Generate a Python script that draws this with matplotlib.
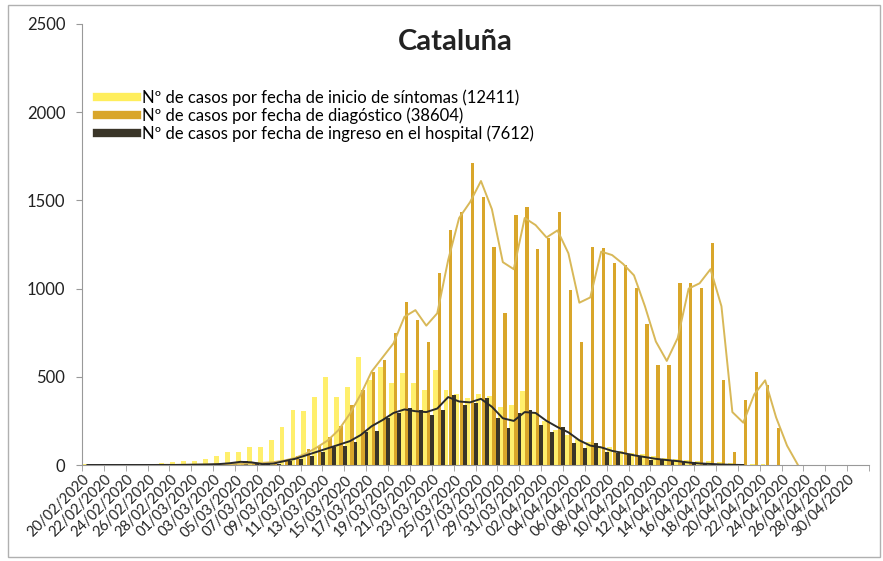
import numpy as np
import pandas as pd
import matplotlib
matplotlib.use('Agg')
import matplotlib.pyplot as plt
from matplotlib.lines import Line2D
from matplotlib.patches import Rectangle

plt.rcParams['font.family'] = ['Lato', 'DejaVu Sans']

# categories: one per day, 20/02/2020 .. 01/05/2020
fechas = [d.strftime('%d/%m/%Y') for d in pd.date_range('2020-02-20', '2020-05-01')]

# Nº de casos por fecha de inicio de síntomas
sintomas = [3, 2, 4, 3, 5, 5, 8, 10, 15, 20,
            25, 35, 50, 75, 75, 104, 104, 142, 217, 312,
            305, 385, 500, 387, 444, 614, 482, 557, 465, 521,
            465, 425, 539, 425, 400, 380, 400, 390, 330, 340,
            420, 300, 250, 200, 170, 150, 130, 110, 100, 80,
            70, 60, 50, 40, 35, 30, 25, 20, 15, 10,
            8, 5, 3, 2, 1, 0, 0, 0, 0, 0, 0, 0]

# Nº de casos por fecha de diagnóstico
diagnostico = [0, 0, 0, 0, 0, 1, 0, 1, 2, 3,
               3, 4, 6, 8, 10, 12, 15, 20, 30, 50,
               90, 110, 160, 220, 340, 425, 529, 595, 746, 926,
               822, 699, 1090, 1332, 1436, 1714, 1521, 1238, 860, 1417,
               1461, 1223, 1285, 1436, 992, 699, 1238, 1228, 1147, 1134,
               1002, 799, 567, 567, 1030, 1034, 1002, 1260, 482, 75,
               368, 529, 453, 208, 0, 0, 0, 0, 0, 0, 0, 0]

# Nº de casos por fecha de ingreso en el hospital
ingreso = [0, 0, 0, 0, 0, 0, 0, 0, 0, 0,
           1, 2, 4, 10, 20, 15, 3, 5, 25, 35,
           50, 75, 100, 110, 130, 189, 190, 265, 293, 321,
           312, 283, 312, 397, 340, 350, 378, 265, 208, 293,
           312, 227, 189, 217, 123, 94, 123, 75, 66, 57,
           47, 28, 35, 25, 20, 15, 10, 8, 5, 3,
           2, 1, 0, 0, 0, 0, 0, 0, 0, 0, 0, 0]

# trend lines
linea_diag = [0, 0, 0, 0, 0, 0, 0, 1, 1, 1,
              2, 3, 4, 5, 7, 9, 12, 16, 25, 40,
              65, 100, 140, 200, 290, 400, 530, 610, 690, 840,
              878, 790, 860, 1162, 1400, 1490, 1610, 1450, 1150, 1110,
              1400, 1360, 1290, 1330, 1200, 920, 950, 1210, 1190, 1140,
              1075, 900, 700, 590, 720, 1000, 1030, 1110, 900, 300,
              240, 400, 480, 270, 110, 0]
linea_ingreso = [0, 0, 0, 0, 0, 0, 0, 0, 0, 1,
                 2, 3, 5, 10, 18, 15, 5, 8, 22, 35,
                 55, 75, 95, 115, 135, 170, 220, 255, 295, 315,
                 305, 300, 320, 385, 360, 355, 375, 330, 265, 250,
                 300, 295, 250, 215, 185, 140, 110, 100, 80, 68,
                 55, 45, 35, 28, 22, 14, 9, 6, 3, 1, 0]

etiquetas = ['Nº de casos por fecha de inicio de síntomas (12411)',
             'Nº de casos por fecha de diagóstico (38604)',
             'Nº de casos por fecha de ingreso en el hospital (7612)']

c_sint = '#FFEE5C'
c_diag = '#D9A62A'
c_ing = '#3a3528'

fig = plt.figure(figsize=(8.83, 5.61), dpi=100)
ax = fig.add_axes([82 / 883, 1 - 465 / 561, 787 / 883, 441 / 561])

x = np.arange(len(fechas))
ax.bar(x - 0.2, sintomas, width=0.45, color=c_sint, alpha=0.9, zorder=2)
ax.bar(x + 0.45, ingreso, width=0.5, color=c_ing, zorder=3)
ax.bar(x + 0.2, diagnostico, width=0.3, color=c_diag, zorder=4)

ax.plot(np.arange(len(linea_diag)), linea_diag, color='#D8B858', lw=1.4, zorder=5)
ax.plot(np.arange(len(linea_ingreso)), linea_ingreso, color='#2a2a2a', lw=1.4, zorder=6)

ax.set_xlim(-0.5, len(fechas) - 0.5)
ax.set_ylim(0, 2500)
ax.set_yticks(range(0, 2501, 500))
ax.set_xticks(x[::2])
ax.set_xticklabels(fechas[::2], rotation=45, ha='right', va='center',
                   rotation_mode='anchor', fontsize=10.5, color='#222222')
ax.set_xticks(np.arange(-0.5, len(fechas), 2), minor=True)
ax.tick_params(axis='x', which='major', length=0, pad=9)
ax.tick_params(axis='x', which='minor', length=4, color='#999999')
ax.tick_params(axis='y', length=4, color='#999999', labelsize=12,
               labelcolor='#222222', pad=8)

for s in ['top', 'right']:
    ax.spines[s].set_visible(False)
for s in ['left', 'bottom']:
    ax.spines[s].set_color('#999999')

fig.text(455 / 883, 1 - 42 / 561, 'Cataluña', fontsize=21, fontweight='bold',
         color='#222222', ha='center', va='center')

handles = [Line2D([], [], color=c_sint, lw=6),
           Line2D([], [], color=c_diag, lw=6),
           Line2D([], [], color=c_ing, lw=6)]
ax.legend(handles, etiquetas, loc='upper left', bbox_to_anchor=(97 / 883, 1 - 89 / 561),
          bbox_transform=fig.transFigure, frameon=False, fontsize=12,
          handlelength=2.4, handletextpad=0.3, labelspacing=0.1,
          borderpad=0, borderaxespad=0)

fig.patches.append(Rectangle((8 / 883, 4 / 561), 872 / 883, 552 / 561,
                             transform=fig.transFigure, fill=False,
                             edgecolor='#b0b0b0', lw=1))

plt.savefig('out.png', dpi=100)
